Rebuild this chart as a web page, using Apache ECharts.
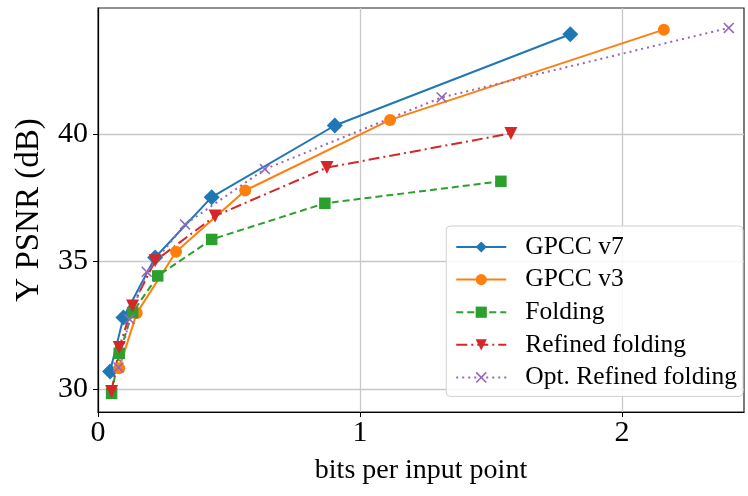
<!DOCTYPE html>
<html>
<head>
<meta charset="utf-8">
<style>
  html, body { margin: 0; padding: 0; background: #fff; }
  #chart { width: 748px; height: 496px; }
</style>
</head>
<body>
<div id="chart"></div>
<script src="https://cdn.jsdelivr.net/npm/echarts@6/dist/echarts.min.js"></script>
<script>
// values
var seriesNames = ['GPCC v7', 'GPCC v3', 'Folding', 'Refined folding', 'Opt. Refined folding'];

var v7Bits  = [0.046, 0.097, 0.218, 0.434, 0.904, 1.803];
var v7Psnr  = [30.69, 32.81, 35.16, 37.53, 40.34, 43.92];

var v3Bits  = [0.081, 0.148, 0.298, 0.562, 1.115, 2.160];
var v3Psnr  = [30.82, 32.98, 35.39, 37.79, 40.56, 44.10];

var foldBits = [0.052, 0.081, 0.132, 0.228, 0.434, 0.866, 1.538];
var foldPsnr = [29.83, 31.40, 33.00, 34.44, 35.87, 37.29, 38.15];

var refBits = [0.052, 0.081, 0.132, 0.218, 0.447, 0.874, 1.576];
var refPsnr = [29.90, 31.63, 33.26, 35.03, 36.79, 38.69, 40.03];

var optBits = [0.078, 0.120, 0.186, 0.332, 0.637, 1.312, 2.408];
var optPsnr = [30.85, 32.74, 34.60, 36.46, 38.63, 41.44, 44.17];

var xTicks = [0, 1, 2];
var yTicks = [30, 35, 40];

function pairs(xs, ys) {
    var out = [];
    for (var i = 0; i < xs.length; i++) out.push([xs[i], ys[i]]);
    return out;
}

var font = 'Liberation Serif';
var crossIcon = 'path://M0,1L1,0L5,4L9,0L10,1L6,5L10,9L9,10L5,6L1,10L0,9L4,5Z';

var chart = echarts.init(document.getElementById('chart'));

var option = {
    animation: false,
    backgroundColor: '#fff',
    textStyle: { fontFamily: font, color: '#000' },
    grid: {
        left: 98, right: 4, top: 8, bottom: 84,
        show: true, borderColor: '#222', borderWidth: 1.2,
        containLabel: false
    },
    legend: {
        orient: 'vertical',
        right: 5, top: 226,
        data: seriesNames,
        itemWidth: 50, itemHeight: 14,
        itemGap: 6.6,
        padding: [8, 6, 6, 9],
        backgroundColor: 'rgba(255,255,255,0.85)',
        borderColor: '#d0d0d0', borderWidth: 1, borderRadius: 4,
        textStyle: { fontFamily: font, fontSize: 25.5, color: '#000', padding: [0, 0, 0, 14] }
    },
    xAxis: {
        type: 'value',
        min: 0, max: 2.466,
        name: 'bits per input point',
        nameLocation: 'middle',
        nameGap: 45,
        nameTextStyle: { fontFamily: font, fontSize: 28, color: '#000' },
        axisLine: { show: true, onZero: false, lineStyle: { color: '#000', width: 1.2 } },
        axisTick: { show: true, length: 5, customValues: xTicks, lineStyle: { color: '#000' } },
        axisLabel: { customValues: xTicks, fontFamily: font, fontSize: 30, color: '#000', margin: 6 },
        splitLine: { show: true, lineStyle: { color: '#c8c8c8', width: 1.3 } }
    },
    yAxis: {
        type: 'value',
        min: 29.1, max: 44.95,
        name: 'Y PSNR (dB)',
        nameLocation: 'middle',
        nameGap: 52,
        nameTextStyle: { fontFamily: font, fontSize: 33, color: '#000' },
        axisLine: { show: true, onZero: false, lineStyle: { color: '#000', width: 1.2 } },
        axisTick: { show: true, length: 5, customValues: yTicks, lineStyle: { color: '#000' } },
        axisLabel: { customValues: yTicks, fontFamily: font, fontSize: 30, color: '#000', margin: 10 },
        splitLine: { show: true, lineStyle: { color: '#c8c8c8', width: 1.3 } }
    },
    series: [
        {
            name: seriesNames[0], type: 'line',
            data: pairs(v7Bits, v7Psnr),
            color: '#1f77b4',
            symbol: 'diamond', symbolSize: 16,
            lineStyle: { width: 2, type: 'solid' }
        },
        {
            name: seriesNames[1], type: 'line',
            data: pairs(v3Bits, v3Psnr),
            color: '#ff7f0e',
            symbol: 'circle', symbolSize: 12,
            lineStyle: { width: 2, type: 'solid' }
        },
        {
            name: seriesNames[2], type: 'line',
            data: pairs(foldBits, foldPsnr),
            color: '#2ca02c',
            symbol: 'rect', symbolSize: 11.5,
            lineStyle: { width: 2, type: [7, 4] }
        },
        {
            name: seriesNames[3], type: 'line',
            data: pairs(refBits, refPsnr),
            color: '#d62728',
            symbol: 'triangle', symbolRotate: 180, symbolSize: 13,
            lineStyle: { width: 2, type: [11, 4, 2, 4] }
        },
        {
            name: seriesNames[4], type: 'line',
            data: pairs(optBits, optPsnr),
            color: '#9467bd',
            symbol: crossIcon, symbolSize: 11,
            lineStyle: { width: 2, type: [2, 4] }
        }
    ]
};

chart.setOption(option);
</script>
</body>
</html>
